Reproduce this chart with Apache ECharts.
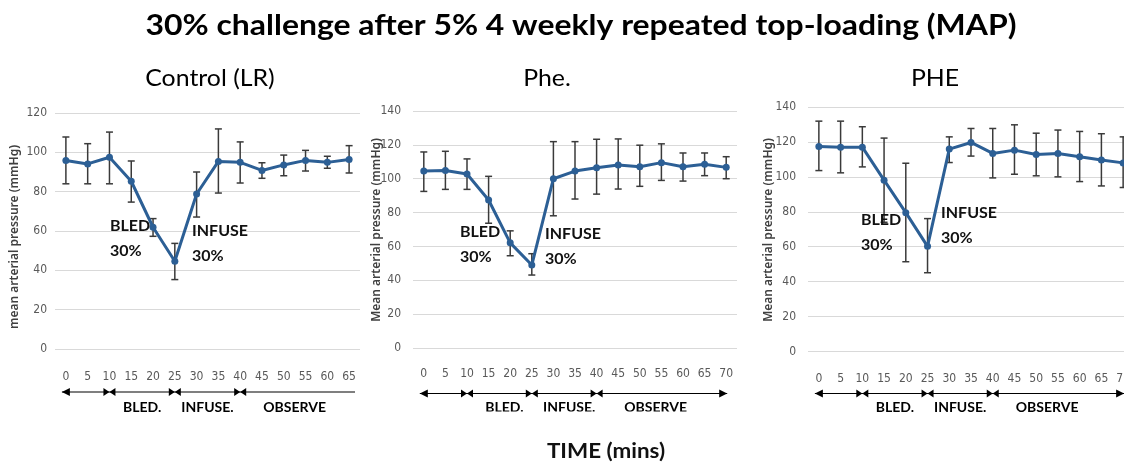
<!DOCTYPE html>
<html>
<head>
<meta charset="utf-8">
<script src="https://cdn.jsdelivr.net/npm/echarts@6/dist/echarts.min.js"></script>
<style>html,body{margin:0;padding:0;background:#fff;overflow:hidden}#c{width:1140px;height:462px}</style>
</head>
<body>
<div id="c"></div>
<script>
// ---- data ----
const times1 = ['0','5','10','15','20','25','30','35','40','45','50','55','60','65'];
const times23 = ['0','5','10','15','20','25','30','35','40','45','50','55','60','65','70'];

const controlMean = [95.9, 94.1, 97.5, 85.3, 61.9, 44.6, 78.8, 95.4, 94.9, 90.8, 93.6, 95.9, 94.9, 96.3];
const controlLow  = [84.0, 84.0, 84.0, 74.7, 57.3, 35.3, 67.1, 79.3, 84.4, 86.8, 88.1, 90.5, 91.9, 89.5];
const controlHigh = [107.8, 104.4, 110.3, 95.6, 66.3, 53.7, 90.0, 111.9, 105.3, 94.7, 98.6, 101.0, 98.0, 103.4];

const pheMean = [104.5, 104.9, 102.8, 87.4, 62.1, 49.0, 100.0, 104.5, 106.5, 108.1, 107.1, 109.5, 107.1, 108.5, 106.7];
const pheLow  = [92.5, 93.7, 93.7, 73.7, 54.5, 43.1, 78.1, 88.0, 90.9, 93.9, 95.5, 99.0, 98.6, 101.8, 100.0];
const pheHigh = [115.8, 116.2, 111.7, 101.4, 69.2, 55.7, 121.9, 121.9, 123.3, 123.5, 119.8, 120.6, 115.2, 115.2, 113.0];

const PHEMean = [117.4, 117.0, 117.0, 98.1, 79.5, 60.2, 115.9, 119.7, 113.4, 115.3, 112.8, 113.4, 111.5, 109.6, 108.0];
const PHELow  = [103.6, 102.3, 105.7, 74.0, 51.4, 45.1, 108.2, 111.9, 99.4, 101.5, 100.6, 100.0, 97.3, 94.8, 93.9];
const PHEHigh = [131.9, 131.9, 128.7, 122.2, 107.8, 76.1, 122.9, 127.7, 127.7, 129.8, 125.0, 126.8, 126.0, 124.7, 122.9];

const yTicks1 = [0, 20, 40, 60, 80, 100, 120];
const yTicks23 = [0, 20, 40, 60, 80, 100, 120, 140];

const mainTitle = '30% challenge after 5% 4 weekly repeated top-loading (MAP)';
const panelTitles = ['Control (LR)', 'Phe.', 'PHE'];
const yNames = ['mean arterial pressure (mmHg)', 'Mean arterial pressure (mmHg)', 'Mean arterial pressure (mmHg)'];
const phaseNames = ['BLED.', 'INFUSE.', 'OBSERVE'];
const xTitle = 'TIME (mins)';

// ---- chart ----
const chart = echarts.init(document.getElementById('c'), null, {renderer: 'canvas'});
const LINE = '#2c5f95';
const EB = '#3a3a3a';
const narrow = '"Liberation Sans Narrow","DejaVu Sans Condensed",sans-serif';
const bodyFont = 'Lato, "Open Sans", sans-serif';

const grids = [
  {left: 55, top: 113, width: 305, height: 236},
  {left: 413, top: 111, width: 324, height: 237},
  {left: 808, top: 107, width: 326, height: 244.5}
];
const cats = [times1, times23, times23];
const means = [controlMean, pheMean, PHEMean];
const lows = [controlLow, pheLow, PHELow];
const highs = [controlHigh, pheHigh, PHEHigh];
const yMax = [yTicks1[yTicks1.length-1], yTicks23[yTicks23.length-1], yTicks23[yTicks23.length-1]];
const yLabelMargin = [8, 12, 12];
const xLabelMargin = [22, 20, 21];

function errItem(params, api) {
  const x = api.value(0);
  const lo = api.coord([x, api.value(1)]);
  const hi = api.coord([x, api.value(2)]);
  const w = 3.5;
  const st = {stroke: EB, lineWidth: 1.5};
  return {type: 'group', children: [
    {type: 'line', shape: {x1: lo[0], y1: lo[1], x2: hi[0], y2: hi[1]}, style: st},
    {type: 'line', shape: {x1: lo[0]-w, y1: lo[1], x2: lo[0]+w, y2: lo[1]}, style: st},
    {type: 'line', shape: {x1: hi[0]-w, y1: hi[1], x2: hi[0]+w, y2: hi[1]}, style: st}
  ]};
}

const xAxes = [], yAxes = [], series = [];
for (let i = 0; i < 3; i++) {
  xAxes.push({
    type: 'category', gridIndex: i, data: cats[i], boundaryGap: true,
    axisLine: {show: false}, axisTick: {show: false},
    axisLabel: {color: '#595959', fontSize: 12, fontFamily: narrow, margin: xLabelMargin[i], interval: 0}
  });
  yAxes.push({
    type: 'value', gridIndex: i, min: 0, max: yMax[i], interval: 20,
    axisLine: {show: false}, axisTick: {show: false},
    axisLabel: {color: '#595959', fontSize: 12, fontFamily: narrow, margin: yLabelMargin[i]},
    splitLine: {lineStyle: {color: '#d9d9d9', width: 1}}
  });
  series.push({
    type: 'custom', xAxisIndex: i, yAxisIndex: i, renderItem: errItem, z: 3,
    data: cats[i].map((c, k) => [k, lows[i][k], highs[i][k]])
  });
  series.push({
    type: 'line', xAxisIndex: i, yAxisIndex: i, data: means[i], z: 4,
    symbol: 'circle', symbolSize: 7,
    lineStyle: {color: LINE, width: 3}, itemStyle: {color: LINE}
  });
}

const yNameX = [15, 377, 769];
const yNameY = [237, 230, 230];
const titleX = [210, 547, 935];

const graphics = [
  {type: 'text', x: 581, y: 26, scaleX: 1.14, style: {text: mainTitle, font: 'bold 28px ' + bodyFont, fill: '#000', align: 'center', verticalAlign: 'middle'}},
  {type: 'text', x: 606, y: 452, scaleX: 1.12, style: {text: xTitle, font: 'bold 20px ' + bodyFont, fill: '#111', align: 'center', verticalAlign: 'middle'}}
];
for (let i = 0; i < 3; i++) {
  graphics.push({type: 'text', x: titleX[i], y: 79, scaleX: 1.08, style: {text: panelTitles[i], font: '23px ' + bodyFont, fill: '#000', align: 'center', verticalAlign: 'middle'}});
  graphics.push({type: 'text', x: yNameX[i], y: yNameY[i], rotation: Math.PI/2,
    style: {text: yNames[i], font: '600 12px "Noto Sans", sans-serif', fill: '#404040', align: 'center', verticalAlign: 'middle'}});
}

// annotations inside plots
const ann = [
  {x: 110, y: 225, t: 'BLED\n30%'}, {x: 192, y: 230, t: 'INFUSE\n30%'},
  {x: 460, y: 231, t: 'BLED\n30%'}, {x: 545, y: 233, t: 'INFUSE\n30%'},
  {x: 861, y: 219, t: 'BLED\n30%'}, {x: 941, y: 212, t: 'INFUSE\n30%'}
];
ann.forEach(a => graphics.push({type: 'text', x: a.x, y: a.y - 12, z: 10,
  style: {text: a.t, font: 'bold 16px ' + bodyFont, fill: '#111', lineHeight: 25}}));

chart.setOption({
  animation: false,
  grid: grids,
  xAxis: xAxes, yAxis: yAxes, series: series,
  graphic: graphics
});

// phase arrows, placed from axis scale
const arrowY = [392, 393.5, 393.5];
const extra = [];
function tri(pts) { return {type: 'polygon', shape: {points: pts}, style: {fill: '#000'}, z: 10}; }
for (let i = 0; i < 3; i++) {
  const px = k => chart.convertToPixel({xAxisIndex: i}, k);
  const y = arrowY[i];
  const x0 = px(0) - 4;
  const xEnd = (i === 0) ? (grids[0].left + grids[0].width - 5) : px(cats[i].length - 1) + 1;
  extra.push({type: 'line', shape: {x1: x0, y1: y, x2: xEnd, y2: y}, style: {stroke: '#000', lineWidth: 1.2}, z: 10});
  extra.push(tri([[x0, y], [x0 + 8, y - 4], [x0 + 8, y + 4]]));
  if (i > 0) extra.push(tri([[xEnd, y], [xEnd - 8, y - 4], [xEnd - 8, y + 4]]));
  [2, 5, 8].forEach(k => {
    const b = px(k);
    extra.push(tri([[b, y], [b - 6, y - 4], [b - 6, y + 4]]));
    extra.push(tri([[b, y], [b + 6, y - 4], [b + 6, y + 4]]));
  });
  const labelPos = [[3, 4], [6, 7], [10, 11]];
  labelPos.forEach((p, j) => {
    const cx = (px(p[0]) + px(p[1])) / 2 + (i === 1 ? 5 : 0);
    extra.push({type: 'text', x: cx, y: 407, z: 10,
      style: {text: phaseNames[j], font: 'bold 14px ' + bodyFont, fill: '#000', align: 'center', verticalAlign: 'middle'}});
  });
}
// middle panel's phase labels are cropped at the bottom in the original
extra.push({type: 'rect', shape: {x: 470, y: 411.5, width: 260, height: 14}, style: {fill: '#fff'}, z: 11});

chart.setOption({graphic: graphics.concat(extra)});
</script>
</body>
</html>
